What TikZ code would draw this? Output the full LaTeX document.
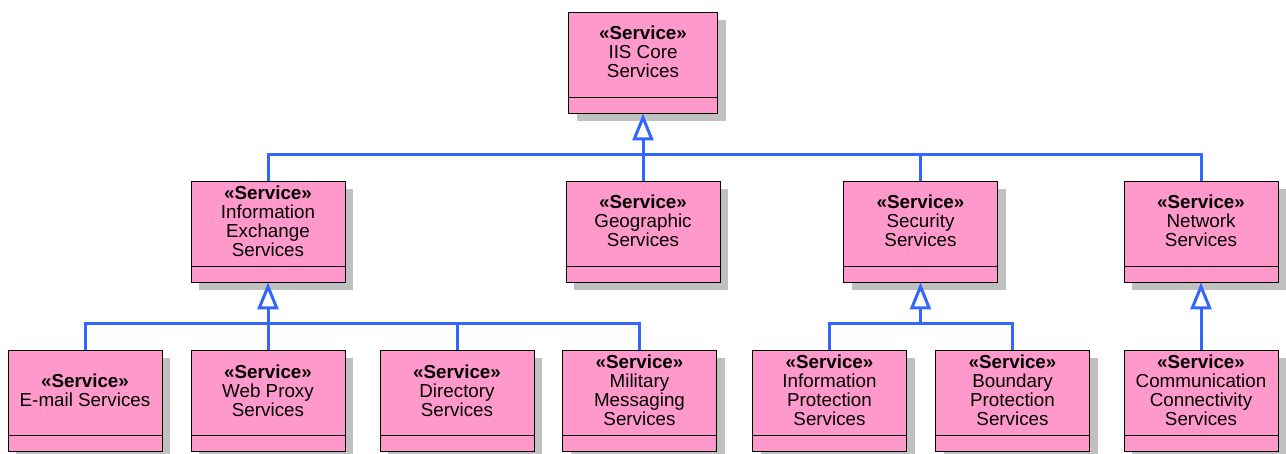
\documentclass[tikz,border=0pt]{standalone}
\usepackage{fontspec}
\setmainfont{Liberation Sans}
\usetikzlibrary{arrows.meta,shadows}
\definecolor{svcpink}{RGB}{255,153,204}
\definecolor{shgray}{RGB}{192,192,192}
\definecolor{linkblue}{RGB}{51,102,255}
\tikzset{
  svc/.style={draw=black, line width=0.9pt, fill=svcpink, rectangle,
    minimum width=154pt, minimum height=101pt, inner sep=0pt,
    drop shadow={shadow xshift=8pt, shadow yshift=-8pt, fill=shgray, opacity=1},
    path picture={\draw[line width=0.9pt] ([yshift=16pt]path picture bounding box.south west) -- ([yshift=16pt]path picture bounding box.south east);}},
  lbl/.style={align=center, inner sep=0pt, font=\fontsize{18.8}{19}\selectfont},
  conn/.style={draw=linkblue, line width=3pt},
  gen/.style={conn, -{Triangle[open, length=27pt, width=21pt, line width=3pt]}}
}
\newcommand{\stereo}{\textbf{«Service»}}
\begin{document}
\begin{tikzpicture}[x=1pt,y=-1pt]
\useasboundingbox (0,0) rectangle (1286,454);
% top
\node[svc, minimum width=149pt] (core) at (643,62.5) {};
% middle
\node[svc] (ie)  at (268,231.5) {};
\node[svc] (geo) at (643,231.5) {};
\node[svc] (sec) at (920.5,231.5) {};
\node[svc] (net) at (1201,231.5) {};
% bottom
\node[svc] (em)  at (85,400.5) {};
\node[svc] (wp)  at (268,400.5) {};
\node[svc] (dir) at (457,400.5) {};
\node[svc] (mil) at (639.5,400.5) {};
\node[svc] (ip)  at (829.5,400.5) {};
\node[svc] (bp)  at (1012.5,400.5) {};
\node[svc] (cc)  at (1201,400.5) {};
% labels
\node[lbl] (tcore) at ([yshift=11pt]core.center) {\stereo\\IIS Core\\Services};
\node[lbl] (tie)  at ([yshift=10.5pt]ie.center) {\stereo\\Information\\Exchange\\Services};
\node[lbl] (tgeo) at ([yshift=10.5pt]geo.center) {\stereo\\Geographic\\Services};
\node[lbl] (tsec) at ([yshift=10.5pt]sec.center) {\stereo\\Security\\Services};
\node[lbl] (tnet) at ([yshift=10.5pt]net.center) {\stereo\\Network\\Services};
\node[lbl] (tem)  at ([yshift=10pt]em.center) {\stereo\\E-mail Services};
\node[lbl] (twp)  at ([yshift=10pt]wp.center) {\stereo\\Web Proxy\\Services};
\node[lbl] (tdir) at ([yshift=10pt]dir.center) {\stereo\\Directory\\Services};
\node[lbl] (tmil) at ([yshift=10pt]mil.center) {\stereo\\Military\\Messaging\\Services};
\node[lbl] (tip)  at ([yshift=10pt]ip.center) {\stereo\\Information\\Protection\\Services};
\node[lbl] (tbp)  at ([yshift=10pt]bp.center) {\stereo\\Boundary\\Protection\\Services};
\node[lbl] (tcc)  at ([yshift=10pt]cc.center) {\stereo\\Communication\\Connectivity\\Services};
% buses
\coordinate (b0) at (643,155);
\coordinate (b1) at (268,324);
\coordinate (b2) at (920.5,324);
\coordinate (b3) at (1201,324);
\draw[conn] (ie.north) |- (b0);
\draw[conn] (geo.north) -- (b0);
\draw[conn] (sec.north) |- (b0);
\draw[conn] (net.north) |- (b0);
\draw[gen] (b0) -- (core.south);
\draw[conn] (em.north) |- (b1);
\draw[conn] (wp.north) -- (b1);
\draw[conn] (dir.north) |- (b1);
\draw[conn] (mil.north) |- (b1);
\draw[gen] (b1) -- (ie.south);
\draw[conn] (ip.north) |- (b2);
\draw[conn] (bp.north) |- (b2);
\draw[gen] (b2) -- (sec.south);
\draw[conn] (cc.north) -- (b3);
\draw[gen] (b3) -- (net.south);
\end{tikzpicture}
\end{document}
